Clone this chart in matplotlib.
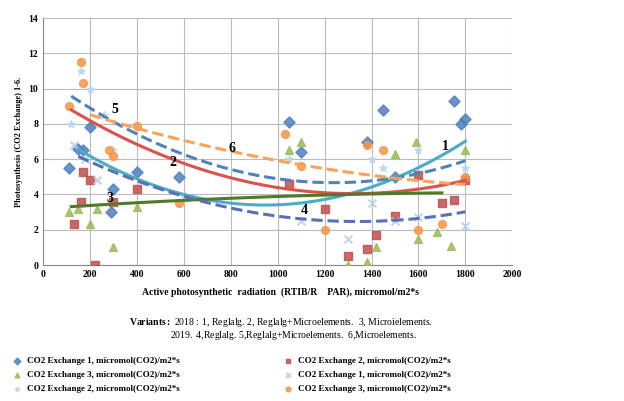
import numpy as np
import matplotlib.pyplot as plt

plt.rcParams['font.family'] = ['Liberation Serif', 'DejaVu Serif']
plt.rcParams['mathtext.fontset'] = 'custom'
plt.rcParams['mathtext.rm'] = 'Liberation Serif'
plt.rcParams['mathtext.bf'] = 'Liberation Serif:bold'
plt.rcParams['mathtext.it'] = 'Liberation Serif:italic:bold'

# scatter data (x = PAR, y = CO2 exchange)
s1_x = [110, 150, 170, 200, 290, 300, 400, 580, 1050, 1100, 1380, 1450, 1500, 1750, 1780, 1800]
s1_y = [5.5, 6.6, 6.5, 7.8, 3.0, 4.3, 5.3, 5.0, 8.1, 6.4, 7.0, 8.8, 5.0, 9.3, 8.0, 8.3]
s2_x = [130, 160, 170, 200, 220, 300, 400, 1050, 1200, 1300, 1380, 1420, 1500, 1600, 1700, 1750, 1800]
s2_y = [2.3, 3.6, 5.3, 4.8, 0.0, 3.6, 4.3, 4.6, 3.2, 0.5, 0.9, 1.7, 2.8, 5.1, 3.5, 3.7, 4.8]
s3_x = [110, 150, 200, 230, 300, 400, 1050, 1100, 1300, 1380, 1420, 1500, 1590, 1600, 1680, 1740, 1800]
s3_y = [3.0, 3.2, 2.3, 3.2, 1.0, 3.3, 6.5, 7.0, 0.0, 0.2, 1.0, 6.3, 7.0, 1.5, 1.9, 1.1, 6.5]
s4_x = [130, 180, 230, 600, 1100, 1300, 1400, 1500, 1600, 1800]
s4_y = [6.8, 6.0, 4.8, 3.8, 2.5, 1.5, 3.5, 2.5, 2.7, 2.2]
s5_x = [120, 160, 200, 260, 300, 1050, 1400, 1450, 1600, 1800]
s5_y = [8.0, 11.0, 10.0, 8.5, 6.5, 6.0, 6.0, 5.5, 6.5, 5.5]
s6_x = [110, 160, 170, 280, 300, 400, 580, 1030, 1100, 1200, 1380, 1450, 1600, 1700, 1800]
s6_y = [9.0, 11.5, 10.3, 6.5, 6.2, 7.9, 3.5, 7.4, 5.6, 2.0, 6.8, 6.5, 2.0, 2.3, 5.0]

# trendline readings (x, y) per variant
tr_x = [[150, 600, 1100, 1800], [120, 550, 1050, 1800], [120, 600, 1100, 1700],
        [150, 600, 1100, 1800], [120, 600, 1100, 1800], [200, 800, 1100, 1400, 1800]]
tr_y = [[6.6, 3.9, 3.6, 7.0], [8.8, 6.0, 4.3, 4.8], [3.3, 3.7, 3.9, 4.1],
        [6.2, 3.8, 2.7, 3.0], [9.6, 6.2, 4.8, 5.9], [8.5, 6.5, 5.7, 5.0, 4.6]]
tr_labels = ['1', '2', '3', '4', '5', '6']
tr_label_pos = [(1700, 6.5), (540, 5.6), (270, 3.6), (1100, 2.9), (290, 8.6), (790, 6.4)]

names = ['CO2 Exchange 1, micromol(CO2)/m2*s', 'CO2 Exchange 2, micromol(CO2)/m2*s',
         'CO2 Exchange 3, micromol(CO2)/m2*s', 'CO2 Exchange 1, micromol(CO2)/m2*s',
         'CO2 Exchange 2, micromol(CO2)/m2*s', 'CO2 Exchange 3, micromol(CO2)/m2*s']
colors = ['#4F81BD', '#C0504D', '#9BBB59', '#B7CDE8', '#B9D7EE', '#F79646']
markers = ['D', 's', '^', 'x', '*', 'o']
tr_colors = ['#4BACC6', '#D9534F', '#4E7A2A', '#5B6FB8', '#4F81BD', '#F7A35C']
tr_styles = ['-', '-', '-', '--', '--', '--']

fig = plt.figure(figsize=(6.24, 4.01), dpi=100)
ax = fig.add_axes([0.069, 0.339, 0.752, 0.616])

xs = [s1_x, s2_x, s3_x, s4_x, s5_x, s6_x]
ys = [s1_y, s2_y, s3_y, s4_y, s5_y, s6_y]
handles = []
for i in range(6):
    h = ax.scatter(xs[i], ys[i], marker=markers[i], color=colors[i], s=32, alpha=0.85,
                   zorder=3, label=names[i])
    handles.append(h)
    c = np.polyfit(tr_x[i], tr_y[i], 2)
    xx = np.linspace(tr_x[i][0], tr_x[i][-1], 100)
    ax.plot(xx, np.polyval(c, xx), tr_styles[i], color=tr_colors[i], lw=2.2, zorder=4)
    ax.text(*tr_label_pos[i], tr_labels[i], fontsize=10, fontweight='bold', zorder=5)

ax.set_xlim(0, 2000)
ax.set_ylim(0, 14)
ax.set_xticks(range(0, 2001, 200))
ax.set_yticks(range(0, 15, 2))
ax.grid(True, color='#BBBBBB', lw=0.8)
ax.tick_params(labelsize=7, length=0)
for t in ax.get_xticklabels() + ax.get_yticklabels():
    t.set_fontweight('bold')
for sp in ['top', 'right']:
    ax.spines[sp].set_visible(False)
ax.spines['left'].set_color('#888888')
ax.spines['bottom'].set_color('#888888')
ax.set_ylabel('Photosynthesis (CO2 Exchange) 1-6.', fontsize=6, fontweight='bold')

fig.text(0.45, 0.265, 'Active photosynthetic  radiation  (RTIB/R    PAR), micromol/m2*s',
         ha='center', fontsize=7, fontweight='bold')
fig.text(0.45, 0.19, r'$\mathbf{Variants:}$ $\mathit{2018:}$ 1, Reglalg. 2, Reglalg+Microelements.  3, Microielements.',
         ha='center', fontsize=7)
fig.text(0.47, 0.158, r'$\mathit{2019.}$ 4,Reglalg. 5,Reglalg+Microelements.  6,Microelements.',
         ha='center', fontsize=7)

order = [0, 2, 4, 1, 3, 5]
fig.legend([handles[i] for i in order], [names[i] for i in order], ncol=2, loc='lower left',
           bbox_to_anchor=(0.0, 0.0), frameon=False, handletextpad=0.1,
           markerscale=0.6, columnspacing=11, labelspacing=0.6, prop={'weight': 'bold', 'size': 6.5})

fig.savefig('out.png', dpi=100)
